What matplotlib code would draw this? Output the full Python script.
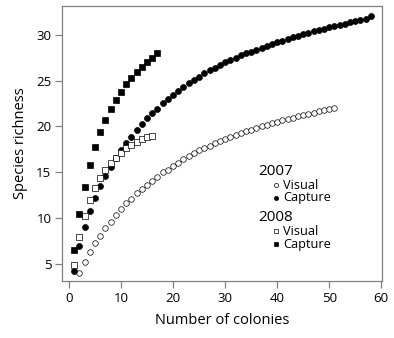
import numpy as np
import matplotlib
matplotlib.use('Agg')
import matplotlib.pyplot as plt

plt.rcParams['font.family'] = ['Open Sans', 'DejaVu Sans']

# 2007 visual survey (open circles)
visual07_x = list(range(2, 52))
visual07_y = [3.98, 5.2, 6.3, 7.25, 8.1, 8.9, 9.6, 10.35, 10.95, 11.6,
              12.1, 12.7, 13.2, 13.6, 14.1, 14.5, 15.0, 15.3, 15.7, 16.05,
              16.4, 16.75, 17.1, 17.4, 17.65, 17.9, 18.15, 18.4, 18.6, 18.85,
              19.05, 19.25, 19.45, 19.65, 19.85, 20.0, 20.2, 20.35, 20.5, 20.65,
              20.8, 20.95, 21.1, 21.25, 21.4, 21.5, 21.65, 21.75, 21.9, 22.0]

# 2007 capture (filled circles)
capture07_x = list(range(1, 59))
capture07_y = [4.24, 7.0, 9.0, 10.75, 12.2, 13.5, 14.6, 15.6, 16.6, 17.4,
               18.2, 18.9, 19.6, 20.25, 20.9, 21.45, 21.95, 22.5, 23.0, 23.45,
               23.9, 24.3, 24.7, 25.05, 25.4, 25.8, 26.1, 26.4, 26.7, 27.0,
               27.25, 27.5, 27.75, 27.95, 28.15, 28.35, 28.55, 28.75, 28.95, 29.15,
               29.35, 29.55, 29.7, 29.9, 30.05, 30.2, 30.35, 30.5, 30.65, 30.8,
               30.95, 31.1, 31.2, 31.35, 31.5, 31.6, 31.75, 32.0]

# 2008 visual survey (open squares)
visual08_x = list(range(1, 17))
visual08_y = [4.86, 7.9, 10.2, 12.0, 13.3, 14.4, 15.3, 16.0, 16.6, 17.1,
              17.6, 18.0, 18.3, 18.6, 18.8, 19.0]

# 2008 capture (filled squares)
capture08_x = list(range(1, 18))
capture08_y = [6.5, 10.5, 13.4, 15.8, 17.8, 19.4, 20.75, 21.9, 22.9, 23.8,
               24.6, 25.3, 25.9, 26.5, 27.0, 27.5, 28.0]

fig = plt.figure(figsize=(3.94, 3.38), dpi=100)
ax = fig.add_axes([0.1586, 0.1695, 0.811, 0.812])

ax.plot(visual07_x, visual07_y, 'o', ms=4.0, mfc='white', mec='black', mew=0.5, ls='none')
ax.plot(capture07_x, capture07_y, 'o', ms=4.3, mfc='black', mec='black', mew=0.5, ls='none')
ax.plot(visual08_x, visual08_y, 's', ms=4.0, mfc='white', mec='black', mew=0.5, ls='none')
ax.plot(capture08_x, capture08_y, 's', ms=4.0, mfc='black', mec='black', mew=0.5, ls='none')

ax.set_xlim(-1.25, 60.15)
ax.set_ylim(3.18, 33.1)
ax.set_xticks(range(0, 61, 10))
ax.set_yticks(range(5, 31, 5))
for s in ax.spines.values():
    s.set_color('#808080')
    s.set_linewidth(0.9)
ax.tick_params(direction='out', length=5, width=0.9, color='#808080',
               labelsize=9.5, labelcolor='black', pad=3)
ax.set_xlabel('Number of colonies', fontsize=10.5, labelpad=6)
ax.set_ylabel('Species richness', fontsize=10.5, labelpad=6)

# hand-built legend in axes fraction
groups = [('2007', 0.3975, [('o', 'white', 'Visual'), ('o', 'black', 'Capture')]),
          ('2008', 0.2285, [('s', 'white', 'Visual'), ('s', 'black', 'Capture')])]
for title, ty, rows in groups:
    ax.text(0.612, ty, title, transform=ax.transAxes, fontsize=11,
            va='center', ha='left')
    for i, (mk, fc, lab) in enumerate(rows):
        ry = ty - 0.049 - 0.047 * i
        ax.plot([0.667], [ry], mk, ms=3.0, mfc=fc, mec='black', mew=0.5,
                transform=ax.transAxes, clip_on=False)
        ax.text(0.69, ry, lab, transform=ax.transAxes, fontsize=9.2,
                va='center', ha='left')

fig.savefig('out.png', dpi=100)
